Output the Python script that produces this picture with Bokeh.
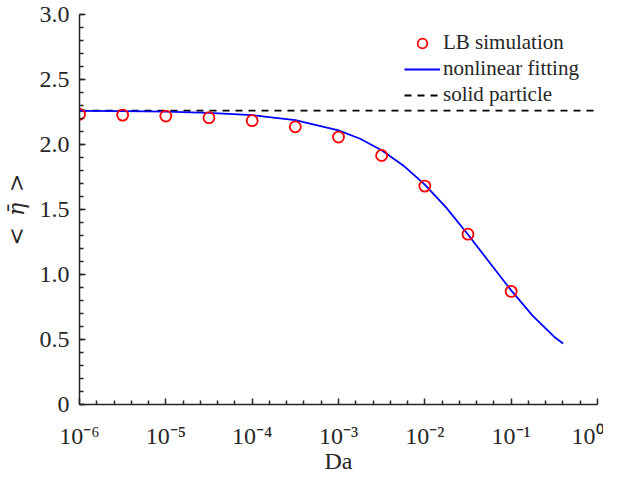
from bokeh.plotting import figure
from bokeh.models import Range1d, FixedTicker, Legend, LegendItem
from bokeh.embed import file_html
from bokeh.resources import INLINE

# ---- data ----
da_sim = [1e-6, 3.16e-6, 1e-5, 3.16e-5, 1e-4, 3.16e-4, 1e-3, 3.16e-3, 1e-2, 3.16e-2, 1e-1]
eta_sim = [2.232, 2.226, 2.219, 2.206, 2.183, 2.136, 2.057, 1.916, 1.68, 1.31, 0.87]

da_fit = [1e-6, 3.16e-6, 1e-5, 3.16e-5, 1e-4, 3.16e-4, 1e-3, 1.78e-3, 3.16e-3, 5.62e-3,
          1e-2, 1.78e-2, 3.16e-2, 5.62e-2, 1e-1, 1.78e-1, 3.16e-1, 4e-1]
eta_fit = [2.258, 2.257, 2.253, 2.244, 2.226, 2.187, 2.108, 2.044, 1.956, 1.839,
           1.691, 1.512, 1.308, 1.092, 0.878, 0.682, 0.52, 0.47]

da_solid = [1e-6, 1.0]
eta_solid = [2.26, 2.26]

x_ticks = [1e-6, 1e-5, 1e-4, 1e-3, 1e-2, 1e-1, 1.0]
x_tick_labels = ["10\u207b\u2076", "10\u207b\u2075", "10\u207b\u2074", "10\u207b\u00b3",
                 "10\u207b\u00b2", "10\u207b\u00b9", "10\u2070"]
y_ticks = [0, 0.5, 1.0, 1.5, 2.0, 2.5, 3.0]
y_tick_labels = ["0", "0.5", "1.0", "1.5", "2.0", "2.5", "3.0"]

FONT = "Liberation Serif"

p = figure(width=603, height=477, x_axis_type="log",
           x_range=Range1d(1e-6, 1.0), y_range=Range1d(0, 3.0),
           output_backend="svg", toolbar_location=None,
           min_border_left=72, min_border_right=6, min_border_top=14, min_border_bottom=73)

p.grid.visible = False
p.outline_line_color = None

# minor tick positions (log axis: 4 evenly spaced per decade, linear axis: every 0.1)
x_minor = []
for k in range(-6, 0):
    for i in range(1, 5):
        x_minor.append(10 ** (k + i / 5))
y_minor = [round(0.1 * i, 1) for i in range(0, 31)]

p.xaxis.ticker = FixedTicker(ticks=x_ticks, minor_ticks=x_minor)
p.yaxis.ticker = FixedTicker(ticks=y_ticks, minor_ticks=y_minor)
p.xaxis.major_label_overrides = {t: l for t, l in zip(x_ticks, x_tick_labels)}
p.yaxis.major_label_overrides = {t: l for t, l in zip(y_ticks, y_tick_labels)}

for ax in (p.xaxis[0], p.yaxis[0]):
    ax.axis_line_color = "#262626"
    ax.axis_line_width = 1.5
    ax.major_tick_line_color = "#262626"
    ax.minor_tick_line_color = "#262626"
    ax.major_tick_line_width = 1.5
    ax.minor_tick_line_width = 1.5
    ax.major_tick_out = 0
    ax.major_tick_in = 6
    ax.minor_tick_out = 0
    ax.minor_tick_in = 4
    ax.major_label_text_font = FONT
    ax.major_label_text_font_size = "24px"
    ax.major_label_text_color = "#262626"
    ax.axis_label_text_font = FONT
    ax.axis_label_text_font_size = "24px"
    ax.axis_label_text_font_style = "normal"
    ax.axis_label_text_color = "#262626"

p.xaxis.axis_label = "Da"
p.xaxis.major_label_standoff = 18
p.xaxis.axis_label_standoff = -4
p.yaxis.axis_label = "<\u2002\u03b7\u0304\u2002>"
p.yaxis.axis_label_text_font = "DejaVu Serif"
p.yaxis.axis_label_text_font_style = "italic"
p.yaxis.axis_label_text_font_size = "22px"
p.yaxis.major_label_standoff = 10
p.yaxis.axis_label_standoff = 8

r_solid = p.line(da_solid, eta_solid, line_color="black", line_width=1.8, line_dash="7 6")
r_fit = p.line(da_fit, eta_fit, line_color="#0000FF", line_width=1.8)
r_sim = p.scatter(da_sim, eta_sim, marker="circle", size=11, fill_color=None,
                  line_color="#FF0000", line_width=1.8)

legend = Legend(items=[
    LegendItem(label="LB simulation", renderers=[r_sim]),
    LegendItem(label="nonlinear fitting", renderers=[r_fit]),
    LegendItem(label="solid particle", renderers=[r_solid]),
], location=(325, 297))
legend.border_line_color = None
legend.background_fill_alpha = 0
legend.padding = 0
legend.spacing = 1
legend.glyph_width = 36
legend.glyph_height = 24
legend.label_height = 24
legend.label_standoff = 3
legend.label_text_font = FONT
legend.label_text_font_size = "21px"
legend.label_text_color = "#262626"
p.add_layout(legend, "center")

open("out.html", "w").write(file_html(p, INLINE))
